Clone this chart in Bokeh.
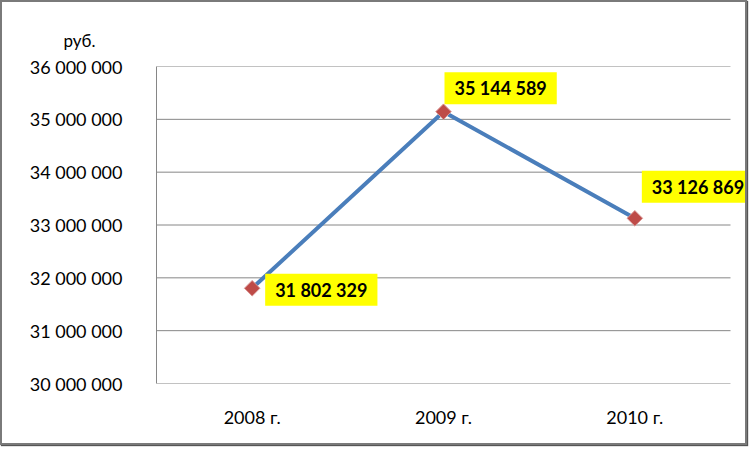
import math
from bokeh.plotting import figure
from bokeh.models import ColumnDataSource, Range1d, FixedTicker, Label, Title
from bokeh.embed import file_html
from bokeh.resources import INLINE

# data
years = ["2008 г.", "2009 г.", "2010 г."]
values = [31802329, 35144589, 33126869]
value_labels = ["31 802 329", "35 144 589", "33 126 869"]
y_ticks = [30000000, 31000000, 32000000, 33000000, 34000000, 35000000, 36000000]
y_tick_labels = ["30 000 000", "31 000 000", "32 000 000", "33 000 000",
                 "34 000 000", "35 000 000", "36 000 000"]
unit_label = "руб."

# label placement (screen offsets)
label_dx = [13, 1, 7]
label_dy = [-1.5, 23.5, 31.5]

n = len(years)
xpos = [i + 0.5 for i in range(n)]          # category centres
src = ColumnDataSource(dict(x=xpos, y=values))

# plot area spans 574px for the categories; the frame continues to the
# right edge so that the data labels are not cut off
cat_px = 574.0
frame_px = 593.0
p = figure(width=747, height=445,
           x_range=Range1d(0, n * frame_px / cat_px),
           y_range=Range1d(y_ticks[0], y_ticks[-1]),
           output_backend="svg", toolbar_location=None,
           min_border_left=154, min_border_top=64, min_border_right=0, min_border_bottom=64,
           styles={"border": "2px solid #7a7a7a", "box-shadow": "1px 1px 1px #555"})
p.outline_line_color = None
p.background_fill_color = "white"
p.border_fill_color = "white"

p.title = Title(text=unit_label, align="left", offset=-93, standoff=32,
                text_font="Lato", text_font_size="17px", text_font_style="normal",
                text_color="black")

p.xgrid.grid_line_color = None
p.ygrid.grid_line_color = None
# horizontal gridlines across the category area only
p.segment(x0=[0] * len(y_ticks), x1=[n] * len(y_ticks), y0=y_ticks, y1=y_ticks,
          line_color="#868686", line_width=1, level="underlay")

p.yaxis.ticker = FixedTicker(ticks=y_ticks)
p.yaxis.major_label_overrides = {t: l for t, l in zip(y_ticks, y_tick_labels)}
p.xaxis.ticker = FixedTicker(ticks=xpos)
p.xaxis.major_label_overrides = {x: l for x, l in zip(xpos, years)}
for ax in (p.xaxis, p.yaxis):
    ax.major_tick_line_color = None
    ax.minor_tick_line_color = None
    ax.major_label_text_font = "Lato"
    ax.major_label_text_font_size = "18px"
    ax.major_label_text_color = "black"
p.yaxis.axis_line_color = "#868686"
p.xaxis.axis_line_color = None
p.yaxis.major_label_standoff = 28
p.xaxis.major_label_standoff = 16

p.line("x", "y", source=src, line_color="#4a7ebb", line_width=4)
p.scatter("x", "y", source=src, marker="square", size=11, angle=math.pi / 4,
          fill_color="#be4b48", line_color="#d99694", line_width=1)

for x, yv, t, dx, dy in zip(xpos, values, value_labels, label_dx, label_dy):
    p.add_layout(Label(x=x, y=yv, text=t, x_offset=dx, y_offset=dy,
                       text_align="left", text_baseline="middle",
                       text_font="Lato", text_font_style="bold", text_font_size="18px",
                       text_color="black", background_fill_color="#ffff00",
                       padding=dict(left=10, right=10, top=5, bottom=5)))

open("out.html", "w").write(file_html(p, INLINE))
